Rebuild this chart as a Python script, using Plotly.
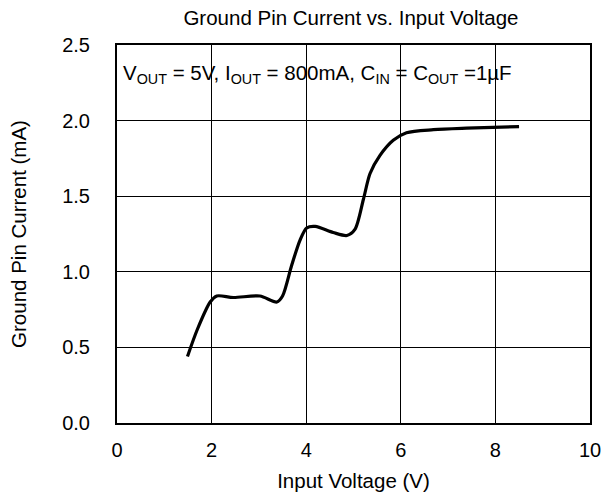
import plotly.graph_objects as go

# Ground pin current vs. input voltage
input_voltage = [1.49, 1.70, 1.97, 2.11, 2.46, 3.02, 3.38, 3.50, 3.69, 3.87, 4.01, 4.19,
                 4.57, 4.86, 5.03, 5.21, 5.35, 5.56, 5.84, 6.12, 6.69, 7.39, 8.50]
ground_current = [0.44, 0.62, 0.80, 0.84, 0.83, 0.84, 0.80, 0.84, 1.04, 1.21, 1.29, 1.30,
                  1.26, 1.24, 1.28, 1.48, 1.65, 1.77, 1.87, 1.92, 1.94, 1.95, 1.96]

x_ticks = [0, 2, 4, 6, 8, 10]
y_ticks = [0.0, 0.5, 1.0, 1.5, 2.0, 2.5]

FONT = "Liberation Sans, Arial, sans-serif"

fig = go.Figure()
fig.add_trace(go.Scatter(
    x=input_voltage, y=ground_current, mode="lines",
    line=dict(color="black", width=3.2, shape="spline", smoothing=0.8),
    showlegend=False, hoverinfo="skip",
))

axis_common = dict(
    showline=True, linecolor="black", linewidth=2, mirror=True,
    showgrid=True, gridcolor="black", gridwidth=1,
    zeroline=False, ticks="", automargin=False,
    tickfont=dict(size=20, color="black", family=FONT),
)

fig.update_xaxes(range=[0, 10], tickvals=x_ticks, ticktext=[str(v) for v in x_ticks],
                 ticklabelstandoff=8,
                 title=dict(text="Input Voltage (V)", font=dict(size=20.5, color="black", family=FONT), standoff=14),
                 **axis_common)
fig.update_yaxes(range=[0, 2.5], tickvals=y_ticks, ticktext=[f"{v:.1f}" for v in y_ticks],
                 ticklabelstandoff=21,
                 title=dict(text="Ground Pin Current (mA)", font=dict(size=20.5, color="black", family=FONT), standoff=30),
                 **axis_common)

fig.add_annotation(
    x=0, y=2.5, xref="x", yref="y", xanchor="left", yanchor="top",
    xshift=4, yshift=-14, showarrow=False,
    text="V<sub>OUT</sub> = 5V, I<sub>OUT</sub> = 800mA, C<sub>IN</sub> = C<sub>OUT</sub> =1µF",
    font=dict(size=20.5, color="black", family=FONT),
)

fig.update_layout(
    width=603, height=499,
    margin=dict(l=117, r=13, t=45, b=76),
    paper_bgcolor="white", plot_bgcolor="white",
    title=dict(text="Ground Pin Current vs. Input Voltage", x=0.582, xanchor="center",
               y=0.964, yanchor="middle",
               font=dict(size=20.5, color="black", family=FONT)),
)

fig.write_html("out.html")
